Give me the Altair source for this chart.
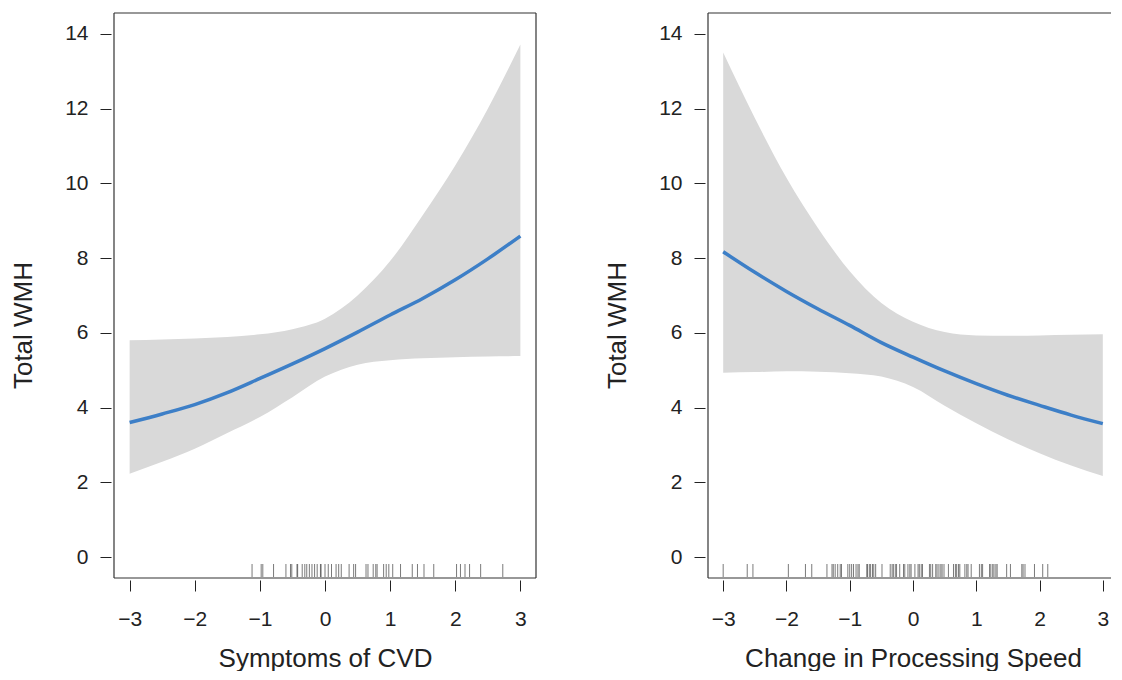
import altair as alt
import pandas as pd

# ---- data ----
x_grid = [-3.0, -2.5, -2.0, -1.5, -1.0, -0.5, 0.0, 0.5, 1.0, 1.5, 2.0, 2.5, 3.0]

cvd_fit = [3.60, 3.83, 4.08, 4.40, 4.78, 5.17, 5.58, 6.02, 6.48, 6.92, 7.42, 7.98, 8.59]
cvd_upper = [5.80, 5.82, 5.85, 5.89, 5.96, 6.10, 6.38, 7.00, 7.92, 9.15, 10.48, 12.00, 13.72]
cvd_lower = [2.23, 2.55, 2.90, 3.32, 3.75, 4.28, 4.83, 5.15, 5.27, 5.32, 5.35, 5.37, 5.38]

ps_fit = [8.17, 7.62, 7.11, 6.64, 6.20, 5.74, 5.35, 4.98, 4.64, 4.33, 4.06, 3.80, 3.57]
ps_upper = [13.50, 11.75, 10.15, 8.80, 7.65, 6.80, 6.30, 6.02, 5.93, 5.92, 5.93, 5.95, 5.96]
ps_lower = [4.93, 4.95, 4.97, 4.96, 4.92, 4.83, 4.55, 4.05, 3.58, 3.15, 2.78, 2.45, 2.17]

cvd_rug = [-1.12, -0.98, -0.955, -0.79, -0.60, -0.53, -0.51, -0.43, -0.42, -0.35, -0.31,
           -0.28, -0.24, -0.20, -0.16, -0.12, -0.07, -0.06, 0.00, 0.05, 0.10, 0.17, 0.21,
           0.25, 0.37, 0.44, 0.47, 0.63, 0.66, 0.74, 0.78, 0.80, 0.90, 0.94, 0.98, 1.04,
           1.16, 1.34, 1.42, 1.52, 1.67, 2.02, 2.08, 2.15, 2.22, 2.39, 2.73]

ps_rug = [-3.0, -2.62, -2.53, -1.97, -1.70, -1.60, -1.36, -1.28, -1.26, -1.23, -1.19,
          -1.15, -1.13, -1.03, -1.00, -0.97, -0.94, -0.90, -0.87, -0.85, -0.73, -0.72,
          -0.69, -0.67, -0.64, -0.62, -0.59, -0.49, -0.36, -0.33, -0.31, -0.28, -0.26,
          -0.21, -0.15, -0.13, -0.08, -0.05, -0.03, 0.03, 0.08, 0.10, 0.13, 0.15, 0.26,
          0.28, 0.31, 0.36, 0.38, 0.41, 0.44, 0.46, 0.49, 0.56, 0.64, 0.67, 0.69, 0.72,
          0.74, 0.82, 0.85, 0.87, 0.92, 1.05, 1.08, 1.10, 1.21, 1.23, 1.26, 1.28, 1.31,
          1.33, 1.48, 1.54, 1.72, 1.74, 1.77, 1.92, 2.05, 2.13]

x_ticks = [-3, -2, -1, 0, 1, 2, 3]
y_ticks = [0, 2, 4, 6, 8, 10, 12, 14]
y_title = "Total WMH"
x_titles = ["Symptoms of CVD", "Change in Processing Speed"]

FONT = "Liberation Sans"
INK = "#222222"
FRAME = "#333333"
BAND = "#D9D9D9"
LINE = "#3D7FC7"
H = 565


def panel(fit, lo, hi, rug, xtitle, width):
    df = pd.DataFrame({"x": x_grid, "fit": fit, "lo": lo, "hi": hi})
    xscale = alt.Scale(domain=[-3.24, 3.24], nice=False, zero=False)
    yscale = alt.Scale(domain=[-0.56, 14.56], nice=False, zero=False)
    xaxis = alt.Axis(title=xtitle, values=x_ticks, format="d", domain=False, grid=False,
                     tickSize=11, tickColor=INK, tickWidth=1, offset=2,
                     labelFont=FONT, labelFontSize=21, labelColor=INK, labelPadding=17,
                     titleFont=FONT, titleFontSize=26, titleFontWeight="normal",
                     titleColor=INK, titleY=86, titleBaseline="alphabetic")
    yaxis = alt.Axis(title=y_title, values=y_ticks, format="d", domain=False, grid=False,
                     tickSize=11, tickColor=INK, tickWidth=1, offset=3,
                     labelFont=FONT, labelFontSize=21, labelColor=INK, labelPadding=12,
                     titleFont=FONT, titleFontSize=26, titleFontWeight="normal",
                     titleColor=INK, titleX=-88, titleY=312, titleBaseline="middle")
    band = alt.Chart(df).mark_area(color=BAND, interpolate="monotone").encode(
        x=alt.X("x:Q", scale=xscale, axis=xaxis),
        y=alt.Y("lo:Q", scale=yscale, axis=yaxis),
        y2=alt.Y2("hi:Q"),
    )
    line = alt.Chart(df).mark_line(color=LINE, strokeWidth=3.5, interpolate="monotone").encode(
        x=alt.X("x:Q", scale=xscale), y=alt.Y("fit:Q", scale=yscale)
    )
    rugc = alt.Chart(pd.DataFrame({"r": rug})).mark_rule(
        color="#333333", strokeWidth=1.0, opacity=0.65
    ).encode(x=alt.X("r:Q", scale=xscale), y=alt.value(H - 1), y2=alt.value(H - 14))
    one = pd.DataFrame({"d": [0]})
    frame = [
        alt.Chart(one).mark_rule(color=FRAME, strokeWidth=1.2).encode(
            x=alt.value(0), x2=alt.value(width), y=alt.value(0)),
        alt.Chart(one).mark_rule(color=FRAME, strokeWidth=1.2).encode(
            x=alt.value(0), x2=alt.value(width), y=alt.value(H)),
        alt.Chart(one).mark_rule(color=FRAME, strokeWidth=1.2).encode(
            x=alt.value(0), y=alt.value(0), y2=alt.value(H)),
        alt.Chart(one).mark_rule(color=FRAME, strokeWidth=1.2).encode(
            x=alt.value(width), y=alt.value(0), y2=alt.value(H)),
    ]
    return alt.layer(band, line, rugc, *frame).properties(width=width, height=H)


left = panel(cvd_fit, cvd_lower, cvd_upper, cvd_rug, x_titles[0], 422)
right = panel(ps_fit, ps_lower, ps_upper, ps_rug, x_titles[1], 410)

# the reference cuts the right-hand panel at the image edge: a negative right
# padding crops the drawing the same way
chart = alt.hconcat(left, right, spacing=67).properties(
    padding={"left": 2, "top": 4, "right": -8, "bottom": 0},
    background="white",
).configure_view(stroke=None)

chart.save("out.html", embed_options={"renderer": "svg", "actions": False})
